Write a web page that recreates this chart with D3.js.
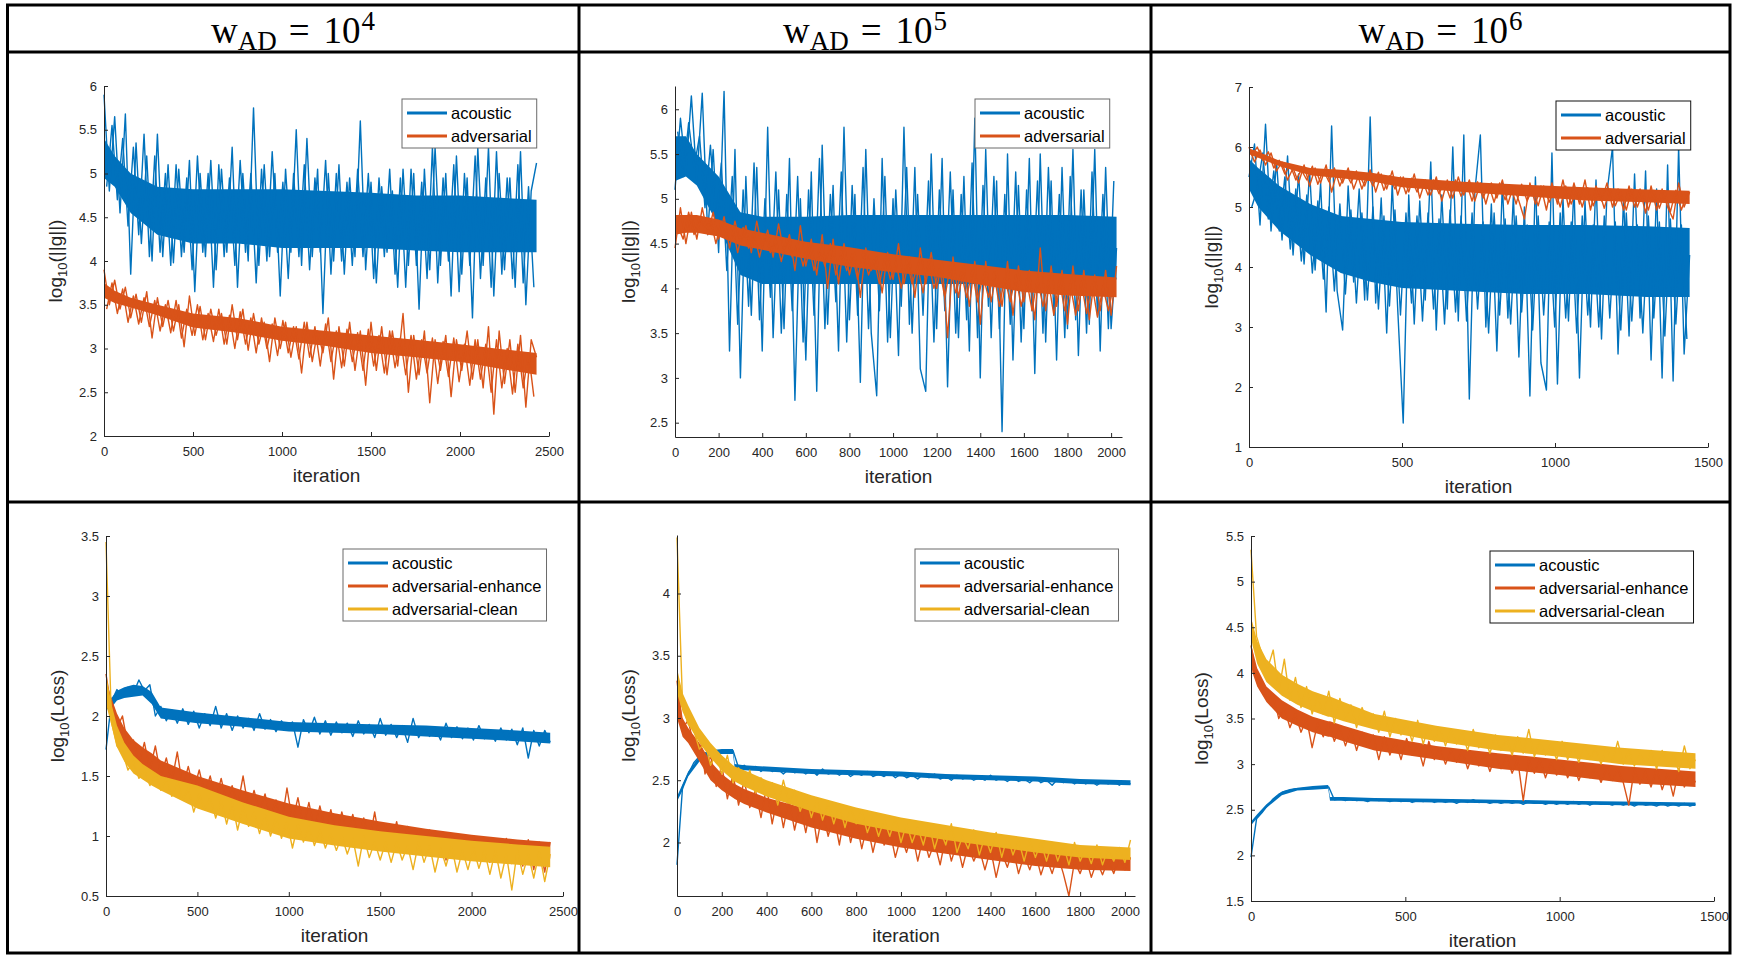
<!DOCTYPE html>
<html><head><meta charset="utf-8">
<script src="https://cdn.jsdelivr.net/npm/d3@7"></script>
<style>body{margin:0;background:#fff}svg{display:block}</style>
</head><body>
<svg id="c" width="1743" height="961"></svg>
<script>
// ---------------- DATA ----------------
const headerExponents = ["4", "5", "6"];
const gradLegend = ["acoustic", "adversarial"];
const lossLegend = ["acoustic", "adversarial-enhance", "adversarial-clean"];
const seriesColors = ["#0072BD", "#D95319", "#EDB120"];

// Panel 1 : w=1e4, log10(||g||); raw trace read every 30 iterations (+ the samples half-way between)
const p1Step = 30;
const p1Acoustic = [5.90,4.80,5.65,4.55,5.68,3.85,5.35,4.20,5.20,4.00,5.45,4.05,5.10,3.98,5.05,4.10,5.15,3.65,5.00,4.05,5.15,3.90,5.05,4.10,5.30,3.70,5.00,4.00,5.75,3.95,5.10,4.05,5.00,3.60,5.05,4.10,5.50,3.95,5.40,4.05,5.05,3.40,5.00,4.00,5.10,3.85,4.95,4.05,5.60,3.90,4.90,3.75,4.85,4.10,4.80,3.70,5.05,3.95,5.00,3.45,5.05,3.90,5.30,3.95,5.00,3.60,5.20,3.85,4.95,3.35,5.30,3.95,5.30,3.60,5.00,3.90,4.95,3.70,5.25,3.50,4.80,5.12];
const p1AcousticMid = [4.85,5.55,4.70,5.40,4.40,5.30,4.30,5.45,4.05,5.20,4.10,5.00,3.95,5.10,4.05,4.95,3.90,5.20,4.10,5.00,3.70,5.10,4.05,4.95,3.95,5.15,4.10,5.00,3.75,5.05,4.00,5.25,4.10,4.90,3.80,5.00,4.05,5.10,3.90,4.95,4.10,5.15,3.85,5.00,4.00,4.90,3.95,5.05,4.05,5.00,3.80,4.95,4.05,5.05,3.85,4.95,3.70,5.05,3.95,4.90,3.80,5.30,3.75,4.95,4.00,5.10,3.65,5.00,3.95,5.20,3.80,4.95,3.70,5.25,3.85,4.95,3.80,5.10,3.75,4.85,3.70];
const p1Adversarial = [3.90,3.50,3.78,3.45,3.70,3.35,3.62,3.30,3.65,3.12,3.58,3.25,3.55,3.20,3.50,3.02,3.60,3.15,3.48,3.10,3.45,3.15,3.40,3.05,3.50,3.10,3.45,2.98,3.40,3.05,3.30,2.85,3.35,3.00,3.30,2.90,3.25,2.72,3.30,2.85,3.20,2.95,3.35,2.65,3.25,2.80,3.30,2.75,3.20,2.58,3.30,2.75,3.25,2.70,3.20,2.80,3.40,2.50,3.15,2.70,3.20,2.38,3.10,2.75,3.15,2.45,3.10,2.75,3.20,2.65,3.10,2.55,3.25,2.25,3.20,2.60,3.10,2.50,3.15,2.33,3.10,2.90];
const p1AdversarialMid = [3.45,3.75,3.40,3.68,3.30,3.60,3.28,3.58,3.25,3.55,3.20,3.50,3.18,3.55,3.12,3.45,3.15,3.50,3.10,3.40,3.08,3.45,3.05,3.38,3.00,3.42,3.05,3.35,2.95,3.35,3.00,3.28,2.92,3.32,2.95,3.25,2.88,3.30,2.90,3.25,2.80,3.28,2.85,3.20,2.78,3.22,2.85,3.18,2.75,3.22,2.80,3.15,2.72,3.20,2.78,3.12,2.70,3.15,2.65,3.10,2.72,3.12,2.60,3.08,2.68,3.12,2.62,3.05,2.58,3.10,2.65,3.05,2.50,3.10,2.55,3.00,2.48,3.05,2.55,2.95,2.45];
// dense core of each trace (lower / upper edge) at these iterations
const p1BandIter = [0, 60, 150, 300, 500, 750, 1000, 1250, 1500, 1750, 2000, 2250, 2430];
const p1AcousticLow  = [4.95, 4.85, 4.55, 4.30, 4.20, 4.20, 4.15, 4.15, 4.15, 4.12, 4.10, 4.10, 4.10];
const p1AcousticHigh = [5.40, 5.20, 5.00, 4.85, 4.82, 4.82, 4.82, 4.80, 4.78, 4.75, 4.75, 4.72, 4.70];
const p1AdversarialLow  = [3.58, 3.52, 3.47, 3.38, 3.24, 3.18, 3.09, 3.03, 2.95, 2.90, 2.85, 2.76, 2.70];
const p1AdversarialHigh = [3.75, 3.66, 3.58, 3.50, 3.40, 3.35, 3.25, 3.20, 3.15, 3.10, 3.05, 2.99, 2.95];
const p1XTicks = [0, 500, 1000, 1500, 2000, 2500];
const p1YTicks = [2, 2.5, 3, 3.5, 4, 4.5, 5, 5.5, 6];

// Panel 2 : w=1e5, log10(||g||), every 25 iterations
const p2Step = 25;
const p2Acoustic = [5.10,5.90,5.30,6.15,5.20,6.18,4.60,5.55,4.40,6.20,3.30,5.55,3.00,5.25,3.70,5.35,3.30,5.80,3.45,5.10,3.55,5.45,2.75,5.00,3.20,5.30,2.85,5.60,3.60,5.15,3.30,5.80,3.65,5.05,2.95,5.55,3.50,2.80,5.45,3.40,5.00,3.25,5.80,3.60,5.35,3.10,2.85,5.50,3.55,5.45,2.90,5.10,3.45,5.25,3.30,5.90,3.00,5.55,3.45,5.20,2.40,5.50,3.20,5.15,3.55,5.45,3.05,5.50,3.40,5.20,3.20,5.35,3.55,5.55,3.25,5.10,3.60,5.55,3.30,5.35,3.55,4.45];
const p2AcousticMid = [5.75,5.25,5.85,5.35,5.70,4.90,5.60,4.70,5.40,4.20,5.25,3.60,5.10,3.80,5.40,3.65,5.00,3.90,5.30,3.50,5.05,3.75,5.25,3.40,5.10,3.70,5.45,3.55,5.05,3.85,5.30,3.40,5.15,3.70,5.35,3.55,5.00,3.75,5.25,3.45,5.10,3.80,5.35,3.50,5.05,3.70,5.20,3.40,5.10,3.75,5.30,3.50,5.05,3.65,5.40,3.45,5.15,3.80,5.25,3.55,5.05,3.60,5.30,3.40,5.10,3.75,5.20,3.50,5.35,3.70,5.05,3.45,5.25,3.65,5.10,3.50,5.30,3.70,5.05,3.55,5.20];
const p2Adversarial = [4.45,4.90,4.50,4.85,4.55,4.90,4.60,4.85,4.55,4.80,4.45,4.75,4.50,4.70,4.40,4.75,4.45,4.65,4.35,4.72,4.40,4.60,4.20,4.70,4.25,4.55,4.15,4.60,4.00,4.55,4.05,4.50,4.15,4.40,3.90,4.45,4.20,4.35,3.95,4.40,4.10,4.50,4.05,4.35,3.90,4.45,4.05,4.40,4.00,4.30,3.45,4.35,3.90,4.25,3.80,4.30,3.60,4.30,3.85,4.20,3.80,4.30,3.70,4.25,3.85,4.20,3.65,4.45,3.75,4.25,3.80,4.20,3.60,4.25,3.75,4.20,3.65,4.15,3.75,4.20,3.70,4.25];
const p2AdversarialMid = [4.70,4.55,4.85,4.60,4.80,4.65,4.78,4.50,4.75,4.55,4.70,4.40,4.68,4.45,4.62,4.35,4.60,4.40,4.55,4.30,4.55,4.35,4.50,4.25,4.50,4.20,4.45,4.25,4.50,4.15,4.42,4.20,4.38,4.10,4.40,4.15,4.32,4.05,4.35,4.10,4.30,4.00,4.32,4.05,4.25,3.95,4.30,4.00,4.22,3.90,4.25,3.95,4.18,3.90,4.20,3.85,4.15,3.90,4.18,3.80,4.12,3.85,4.15,3.80,4.10,3.75,4.12,3.80,4.08,3.70,4.10,3.75,4.05,3.70,4.08,3.72,4.05,3.68,4.02,3.75,4.05];
const p2BandIter = [0, 50, 100, 200, 300, 400, 600, 800, 1000, 1200, 1400, 1600, 1800, 2025];
const p2AcousticLow  = [5.20, 5.25, 5.15, 4.70, 4.15, 4.05, 4.05, 4.05, 4.05, 4.05, 4.05, 4.05, 4.05, 4.10];
const p2AcousticHigh = [5.70, 5.70, 5.50, 5.25, 4.85, 4.80, 4.80, 4.82, 4.82, 4.82, 4.82, 4.82, 4.82, 4.80];
const p2AdversarialLow  = [4.60, 4.62, 4.62, 4.58, 4.48, 4.43, 4.33, 4.24, 4.18, 4.13, 4.04, 3.96, 3.92, 3.90];
const p2AdversarialHigh = [4.82, 4.82, 4.82, 4.77, 4.67, 4.62, 4.52, 4.46, 4.38, 4.32, 4.26, 4.20, 4.16, 4.12];
const p2XTicks = [0, 200, 400, 600, 800, 1000, 1200, 1400, 1600, 1800, 2000];
const p2YTicks = [2.5, 3, 3.5, 4, 4.5, 5, 5.5, 6];

// Panel 3 : w=1e6, log10(||g||), every 18 iterations
const p3Step = 18;
const p3Acoustic = [5.50,6.05,4.70,6.38,4.60,5.75,4.45,5.85,4.20,5.55,4.05,5.60,3.95,5.40,3.25,6.35,3.60,2.95,5.35,3.75,5.30,3.45,6.50,3.40,5.15,2.90,5.40,3.30,1.40,5.20,3.05,5.10,3.45,5.75,2.95,5.20,3.30,6.00,3.10,6.20,1.80,5.25,6.20,3.00,5.05,2.60,5.40,3.15,5.20,2.50,5.00,1.85,5.50,2.40,1.95,5.90,2.05,5.15,3.10,5.35,2.15,5.10,3.00,5.45,2.80,5.25,6.00,2.55,5.15,2.85,5.55,3.15,5.60,2.45,5.30,2.15,5.70,2.10,6.00,2.55,4.20];
const p3AcousticMid = [5.00,5.30,5.90,4.80,5.60,4.60,5.50,4.30,5.30,4.10,5.20,3.90,5.10,3.80,5.00,3.60,5.05,3.55,4.95,3.40,4.90,3.45,5.00,3.30,4.85,3.35,4.95,3.20,4.90,3.40,4.85,3.10,4.90,3.30,4.80,3.05,4.95,3.25,4.85,3.10,4.90,3.30,4.75,2.90,4.90,3.20,4.80,3.05,4.85,3.25,4.70,2.95,4.85,3.20,4.75,3.00,4.90,3.15,4.75,2.90,4.85,3.20,4.70,3.00,4.85,3.15,4.75,2.95,4.90,3.10,4.70,2.90,4.85,3.15,4.75,2.85,4.80,3.05,4.70,2.80];
const p3Adversarial = [6.00,5.75,5.95,5.70,5.90,5.60,5.75,5.45,5.65,5.40,5.70,5.35,5.65,5.40,5.70,5.25,5.60,5.40,5.65,5.30,5.55,5.35,5.62,5.25,5.55,5.30,5.60,5.20,5.50,5.25,5.55,5.15,5.45,5.20,5.50,5.10,5.45,5.15,5.50,5.20,5.45,5.10,5.40,5.05,5.40,5.15,5.45,5.05,5.35,5.10,4.80,5.40,5.05,5.35,4.95,5.40,5.05,5.45,5.00,5.40,5.05,5.45,4.95,5.35,5.10,5.40,5.00,5.30,4.95,5.35,5.00,5.30,4.90,5.35,4.95,5.30,5.00,4.80,5.40,5.00,5.25];
const p3AdversarialMid = [5.85,6.00,5.78,5.92,5.65,5.78,5.55,5.70,5.45,5.62,5.45,5.68,5.38,5.62,5.42,5.65,5.35,5.58,5.40,5.60,5.30,5.55,5.35,5.58,5.28,5.52,5.30,5.50,5.22,5.48,5.25,5.45,5.20,5.45,5.22,5.42,5.15,5.45,5.18,5.40,5.10,5.42,5.15,5.38,5.08,5.40,5.12,5.35,5.05,5.38,5.10,5.32,5.02,5.35,5.08,5.30,5.00,5.35,5.05,5.30,5.00,5.32,5.02,5.28,4.98,5.30,5.02,5.25,4.95,5.30,5.00,5.25,4.95,5.28,4.98,5.25,4.92,5.28,4.95,5.22];
const p3BandIter = [0, 30, 100, 200, 300, 400, 500, 700, 900, 1100, 1300, 1440];
const p3AcousticLow  = [5.30, 5.00, 4.60, 4.20, 3.90, 3.75, 3.65, 3.60, 3.55, 3.55, 3.50, 3.50];
const p3AcousticHigh = [5.80, 5.65, 5.35, 5.05, 4.85, 4.80, 4.75, 4.72, 4.70, 4.70, 4.68, 4.65];
const p3AdversarialLow  = [5.88, 5.82, 5.68, 5.53, 5.48, 5.43, 5.33, 5.25, 5.18, 5.11, 5.08, 5.05];
const p3AdversarialHigh = [5.98, 5.92, 5.77, 5.65, 5.62, 5.57, 5.49, 5.42, 5.37, 5.33, 5.29, 5.27];
const p3XTicks = [0, 500, 1000, 1500];
const p3YTicks = [1, 2, 3, 4, 5, 6, 7];

// Panel 4 : w=1e4, log10(Loss), every 30 iterations
const p4Step = 30;
const p4Acoustic = [1.72,2.12,2.22,2.17,2.24,2.19,2.30,2.21,2.26,2.00,2.08,1.96,2.05,1.94,2.06,1.93,2.04,1.90,2.02,1.92,2.08,1.90,2.02,1.88,2.00,1.90,1.98,1.88,2.02,1.89,1.97,1.87,1.96,1.89,1.95,1.74,1.97,1.86,1.99,1.85,1.96,1.84,1.95,1.86,1.94,1.83,1.96,1.85,1.93,1.82,1.98,1.84,1.93,1.82,1.92,1.78,1.98,1.82,1.90,1.83,1.90,1.80,1.94,1.82,1.91,1.81,1.90,1.80,1.92,1.81,1.88,1.79,1.90,1.80,1.89,1.76,1.90,1.65,1.88,1.75,1.88,1.78];
const p4Enhance = [2.35,2.05,1.90,2.00,1.75,1.80,1.60,1.78,1.55,1.75,1.50,1.65,1.45,1.70,1.40,1.58,1.38,1.55,1.35,1.50,1.30,1.48,1.28,1.42,1.25,1.50,1.22,1.38,1.20,1.35,1.15,1.30,1.10,1.40,1.12,1.32,1.08,1.28,1.05,1.25,1.05,1.22,1.00,1.20,1.02,1.18,0.98,1.15,0.95,1.20,0.92,1.10,0.95,1.12,0.90,1.08,0.88,1.05,0.85,1.05,0.85,1.00,0.80,1.02,0.83,0.98,0.82,1.00,0.80,0.95,0.78,0.95,0.80,0.98,0.77,0.93,0.75,0.97,0.72,0.95,0.70,0.95];
const p4Clean = [3.45,1.95,1.75,1.70,1.55,1.62,1.48,1.55,1.42,1.52,1.38,1.48,1.33,1.45,1.30,1.40,1.20,1.35,1.22,1.32,1.15,1.30,1.10,1.28,1.05,1.25,1.08,1.20,1.02,1.18,1.00,1.15,0.98,1.12,0.90,1.10,0.95,1.08,0.92,1.05,0.90,1.02,0.88,1.00,0.85,0.98,0.75,1.00,0.82,0.95,0.80,0.95,0.78,0.95,0.80,0.92,0.72,0.95,0.78,0.92,0.70,0.90,0.75,0.92,0.70,0.88,0.72,0.90,0.73,0.88,0.68,0.88,0.65,0.85,0.55,0.88,0.68,0.85,0.65,0.87,0.62,0.85];
const p4BandIter = [0, 30, 60, 100, 150, 200, 250, 300, 500, 750, 1000, 1250, 1500, 1750, 2000, 2250, 2430];
const p4AcousticLow  = [2.05, 2.07, 2.13, 2.15, 2.16, 2.17, 2.10, 1.98, 1.94, 1.91, 1.87, 1.86, 1.85, 1.83, 1.81, 1.79, 1.77];
const p4AcousticHigh = [2.20, 2.15, 2.21, 2.24, 2.26, 2.25, 2.20, 2.07, 2.03, 1.99, 1.95, 1.94, 1.93, 1.92, 1.90, 1.88, 1.86];
const p4EnhanceLow  = [2.10, 1.98, 1.82, 1.72, 1.62, 1.57, 1.52, 1.47, 1.32, 1.20, 1.08, 1.01, 0.95, 0.90, 0.86, 0.83, 0.81];
const p4EnhanceHigh = [2.30, 2.15, 2.02, 1.90, 1.80, 1.74, 1.69, 1.63, 1.50, 1.38, 1.27, 1.19, 1.12, 1.06, 1.01, 0.97, 0.95];
const p4CleanLow  = [2.10, 1.92, 1.74, 1.62, 1.52, 1.47, 1.42, 1.38, 1.23, 1.10, 0.98, 0.92, 0.87, 0.83, 0.79, 0.76, 0.74];
const p4CleanHigh = [2.35, 2.10, 1.92, 1.78, 1.67, 1.60, 1.55, 1.50, 1.42, 1.28, 1.16, 1.09, 1.04, 1.00, 0.96, 0.93, 0.91];
const p4XTicks = [0, 500, 1000, 1500, 2000, 2500];
const p4YTicks = [0.5, 1, 1.5, 2, 2.5, 3, 3.5];

// Panel 5 : w=1e5, log10(Loss), every 25 iterations
const p5Step = 25;
const p5Acoustic = [1.82,2.45,2.55,2.64,2.69,2.72,2.73,2.74,2.73,2.74,2.74,2.60,2.62,2.58,2.61,2.57,2.60,2.57,2.59,2.55,2.59,2.56,2.58,2.55,2.58,2.54,2.59,2.55,2.57,2.54,2.57,2.53,2.56,2.54,2.57,2.53,2.55,2.53,2.56,2.52,2.55,2.52,2.54,2.51,2.55,2.52,2.55,2.51,2.53,2.50,2.54,2.51,2.53,2.50,2.52,2.50,2.54,2.50,2.52,2.49,2.52,2.49,2.51,2.48,2.52,2.48,2.50,2.46,2.51,2.48,2.50,2.47,2.50,2.47,2.49,2.46,2.49,2.47,2.49,2.46,2.49,2.47];
const p5Enhance = [3.30,2.92,2.98,2.78,2.90,2.55,2.70,2.45,2.62,2.35,2.55,2.30,2.50,2.28,2.42,2.20,2.45,2.15,2.38,2.12,2.35,2.10,2.30,2.08,2.32,2.00,2.25,2.05,2.22,1.98,2.25,2.00,2.18,1.95,2.15,1.92,2.12,1.98,2.10,1.88,2.05,1.92,2.08,1.85,2.05,1.88,2.00,1.82,2.05,1.85,2.00,1.80,1.98,1.85,1.95,1.78,1.95,1.72,1.92,1.80,1.95,1.75,1.90,1.78,1.92,1.74,1.88,1.75,1.90,1.75,1.57,1.85,1.75,1.88,1.72,1.85,1.74,1.86,1.75,1.88,1.78,1.88];
const p5Clean = [4.45,3.10,2.95,2.90,2.75,2.80,2.62,2.72,2.55,2.70,2.48,2.60,2.45,2.58,2.40,2.52,2.38,2.48,2.30,2.50,2.32,2.42,2.25,2.38,2.20,2.35,2.18,2.32,2.15,2.30,2.12,2.28,2.15,2.25,2.08,2.20,2.05,2.18,2.05,2.20,2.00,2.15,2.00,2.12,1.98,2.15,1.95,2.10,1.98,2.15,1.92,2.05,1.95,2.10,1.90,2.05,1.92,2.08,1.88,2.05,1.90,2.02,1.85,2.02,1.88,2.00,1.85,2.00,1.85,1.98,1.82,2.00,1.85,1.95,1.83,1.98,1.82,1.95,1.85,1.96,1.84,2.02];
const p5BandIter = [0, 25, 50, 100, 150, 200, 250, 258, 300, 400, 600, 800, 1000, 1200, 1400, 1600, 1800, 2025];
const p5AcousticLow  = [2.33, 2.42, 2.53, 2.65, 2.70, 2.71, 2.71, 2.59, 2.58, 2.57, 2.55, 2.54, 2.53, 2.51, 2.50, 2.49, 2.47, 2.46];
const p5AcousticHigh = [2.37, 2.47, 2.57, 2.69, 2.74, 2.75, 2.75, 2.63, 2.62, 2.61, 2.59, 2.58, 2.57, 2.55, 2.54, 2.53, 2.51, 2.50];
const p5EnhanceLow  = [3.00, 2.85, 2.80, 2.65, 2.50, 2.42, 2.36, 2.35, 2.31, 2.24, 2.12, 2.03, 1.96, 1.91, 1.86, 1.81, 1.78, 1.77];
const p5EnhanceHigh = [3.30, 3.00, 2.92, 2.80, 2.65, 2.55, 2.48, 2.47, 2.43, 2.36, 2.26, 2.16, 2.09, 2.03, 1.98, 1.93, 1.89, 1.88];
const p5CleanLow  = [3.20, 3.05, 2.95, 2.80, 2.68, 2.58, 2.50, 2.49, 2.45, 2.37, 2.25, 2.15, 2.08, 2.02, 1.97, 1.92, 1.88, 1.86];
const p5CleanHigh = [3.40, 3.20, 3.10, 2.92, 2.80, 2.70, 2.62, 2.61, 2.58, 2.50, 2.38, 2.28, 2.20, 2.14, 2.08, 2.03, 1.98, 1.96];
const p5XTicks = [0, 200, 400, 600, 800, 1000, 1200, 1400, 1600, 1800, 2000];
const p5YTicks = [2, 2.5, 3, 3.5, 4];

// Panel 6 : w=1e6, log10(Loss), every 18 iterations
const p6Step = 18;
const p6Acoustic = [1.98,2.40,2.47,2.55,2.62,2.67,2.70,2.72,2.73,2.73,2.74,2.74,2.75,2.75,2.75,2.61,2.62,2.60,2.62,2.60,2.61,2.59,2.62,2.60,2.61,2.59,2.61,2.59,2.61,2.58,2.60,2.59,2.61,2.58,2.60,2.58,2.60,2.57,2.60,2.58,2.61,2.58,2.59,2.57,2.59,2.57,2.59,2.57,2.59,2.56,2.59,2.57,2.58,2.56,2.58,2.56,2.58,2.56,2.59,2.56,2.58,2.55,2.58,2.56,2.57,2.55,2.57,2.55,2.57,2.54,2.57,2.55,2.56,2.54,2.57,2.54,2.56,2.54,2.57,2.54,2.56];
const p6Enhance = [4.30,3.95,3.85,3.70,3.75,3.50,3.62,3.40,3.55,3.35,3.50,3.18,3.45,3.30,3.45,3.25,3.40,3.20,3.38,3.15,3.35,3.20,3.32,3.05,3.30,3.10,3.25,3.05,3.28,3.10,3.20,2.98,3.25,3.05,3.18,3.00,3.15,3.02,3.15,2.95,3.12,2.98,3.10,2.92,3.10,2.95,3.08,2.90,3.05,2.60,3.05,2.90,3.05,2.85,3.02,2.88,3.00,2.85,3.00,2.82,2.98,2.85,2.95,2.80,2.95,2.82,2.95,2.80,2.55,2.95,2.78,2.92,2.75,2.95,2.72,2.90,2.65,2.95,2.75,2.90,2.80];
const p6Clean = [5.35,4.40,4.20,4.05,4.25,3.80,4.15,3.70,3.95,3.62,3.85,3.55,3.75,3.55,3.80,3.45,3.72,3.48,3.65,3.40,3.62,3.42,3.55,3.35,3.58,3.30,3.50,3.32,3.45,3.25,3.48,3.22,3.42,3.25,3.40,3.20,3.38,3.22,3.35,3.15,3.38,3.18,3.30,3.12,3.32,3.15,3.28,3.10,3.30,3.12,3.38,3.08,3.25,3.10,3.22,3.05,3.25,3.05,3.20,3.02,3.20,3.05,3.18,3.00,3.18,3.02,3.25,3.00,3.15,2.98,3.12,3.00,3.15,2.95,3.15,2.98,3.10,2.92,3.20,2.95,3.05];
const p6BandIter = [0, 5, 20, 50, 100, 150, 200, 250, 256, 300, 400, 600, 800, 1000, 1200, 1440];
const p6AcousticLow  = [2.33, 2.35, 2.41, 2.52, 2.66, 2.71, 2.72, 2.73, 2.60, 2.60, 2.59, 2.58, 2.57, 2.56, 2.55, 2.54];
const p6AcousticHigh = [2.37, 2.39, 2.45, 2.56, 2.70, 2.74, 2.76, 2.77, 2.64, 2.64, 2.63, 2.62, 2.61, 2.60, 2.59, 2.58];
const p6EnhanceLow  = [4.10, 4.00, 3.85, 3.68, 3.50, 3.42, 3.35, 3.30, 3.30, 3.25, 3.15, 3.05, 2.95, 2.88, 2.80, 2.75];
const p6EnhanceHigh = [4.30, 4.25, 4.05, 3.85, 3.70, 3.60, 3.52, 3.47, 3.47, 3.42, 3.32, 3.20, 3.12, 3.05, 2.98, 2.92];
const p6CleanLow  = [4.40, 4.30, 4.10, 3.90, 3.75, 3.65, 3.58, 3.52, 3.52, 3.47, 3.38, 3.25, 3.15, 3.08, 3.00, 2.95];
const p6CleanHigh = [4.60, 4.55, 4.35, 4.15, 3.98, 3.88, 3.80, 3.74, 3.74, 3.68, 3.55, 3.42, 3.32, 3.25, 3.18, 3.12];
const p6XTicks = [0, 500, 1000, 1500];
const p6YTicks = [1.5, 2, 2.5, 3, 3.5, 4, 4.5, 5, 5.5];

// ---------------- LAYOUT ----------------
const svg = d3.select("#c");
const sans = "'Liberation Sans', Arial, sans-serif";
const ink = "#262626";

const panels = [
  {step:p1Step, series:[[p1Acoustic,p1AcousticMid],[p1Adversarial,p1AdversarialMid]], bandIter:p1BandIter, bands:[[p1AcousticLow,p1AcousticHigh],[p1AdversarialLow,p1AdversarialHigh]],
   legend:gradLegend, xDomain:[0,2500], yDomain:[2,6], xTicks:p1XTicks, yTicks:p1YTicks,
   left:104, right:549, top:86, bottom:436, legX:402, legY:99, legBorder:"#6a6a6a", yLabel:"g", yLabX:49},
  {step:p2Step, series:[[p2Acoustic,p2AcousticMid],[p2Adversarial,p2AdversarialMid]], bandIter:p2BandIter, bands:[[p2AcousticLow,p2AcousticHigh],[p2AdversarialLow,p2AdversarialHigh]],
   legend:gradLegend, xDomain:[0,2050], yDomain:[2.34,6.26], xTicks:p2XTicks, yTicks:p2YTicks,
   left:675, right:1122, top:86, bottom:437, legX:975, legY:99, legBorder:"#6a6a6a", yLabel:"g", yLabX:47},
  {step:p3Step, series:[[p3Acoustic,p3AcousticMid],[p3Adversarial,p3AdversarialMid]], bandIter:p3BandIter, bands:[[p3AcousticLow,p3AcousticHigh],[p3AdversarialLow,p3AdversarialHigh]],
   legend:gradLegend, xDomain:[0,1500], yDomain:[1,7], xTicks:p3XTicks, yTicks:p3YTicks,
   left:1249, right:1708, top:87, bottom:447, legX:1556, legY:101, legBorder:"#111", yLabel:"g", yLabX:38},
  {step:p4Step, series:[[p4Acoustic],[p4Enhance],[p4Clean]], bandIter:p4BandIter, bands:[[p4AcousticLow,p4AcousticHigh],[p4EnhanceLow,p4EnhanceHigh],[p4CleanLow,p4CleanHigh]],
   legend:lossLegend, xDomain:[0,2500], yDomain:[0.5,3.5], xTicks:p4XTicks, yTicks:p4YTicks,
   left:106, right:563, top:536, bottom:896, legX:343, legY:549, legBorder:"#6a6a6a", yLabel:"L", yLabX:49},
  {step:p5Step, series:[[p5Acoustic],[p5Enhance],[p5Clean]], bandIter:p5BandIter, bands:[[p5AcousticLow,p5AcousticHigh],[p5EnhanceLow,p5EnhanceHigh],[p5CleanLow,p5CleanHigh]],
   legend:lossLegend, xDomain:[0,2045], yDomain:[1.57,4.47], xTicks:p5XTicks, yTicks:p5YTicks,
   left:677, right:1135, top:535, bottom:896, legX:915, legY:549, legBorder:"#6a6a6a", yLabel:"L", yLabX:49},
  {step:p6Step, series:[[p6Acoustic],[p6Enhance],[p6Clean]], bandIter:p6BandIter, bands:[[p6AcousticLow,p6AcousticHigh],[p6EnhanceLow,p6EnhanceHigh],[p6CleanLow,p6CleanHigh]],
   legend:lossLegend, xDomain:[0,1500], yDomain:[1.5,5.5], xTicks:p6XTicks, yTicks:p6YTicks,
   left:1251, right:1714, top:536, bottom:901, legX:1490, legY:551, legBorder:"#111", yLabel:"L", yLabX:50}
];

function drawPanel(p){
  const g = svg.append("g");
  const x = d3.scaleLinear().domain(p.xDomain).range([p.left, p.right]);
  const y = d3.scaleLinear().domain(p.yDomain).range([p.bottom, p.top]);
  const line = d3.line().x(d => x(d[0])).y(d => y(d[1]));
  const area = d3.area().x(d => x(d.it)).y0(d => y(d.lo)).y1(d => y(d.hi));

  p.series.forEach((traces, k) => {
    const [lo, hi] = p.bands[k];
    g.append("path")
      .attr("d", area(p.bandIter.map((it, i) => ({it, lo: lo[i], hi: hi[i]}))))
      .attr("fill", seriesColors[k]).attr("stroke", "none");
    traces.forEach((vals, t) => {
      const offset = t * p.step / 2;
      g.append("path")
        .attr("d", line(vals.map((v, i) => [offset + i * p.step, v])))
        .attr("fill", "none").attr("stroke", seriesColors[k])
        .attr("stroke-width", 1.4).attr("stroke-linejoin", "round");
    });
  });

  const fmt = d => String(d);
  const xa = g.append("g").attr("transform", `translate(0,${p.bottom})`)
    .call(d3.axisBottom(x).tickValues(p.xTicks).tickFormat(fmt).tickSizeInner(-4).tickSizeOuter(0).tickPadding(11));
  const ya = g.append("g").attr("transform", `translate(${p.left},0)`)
    .call(d3.axisLeft(y).tickValues(p.yTicks).tickFormat(fmt).tickSizeInner(-4).tickSizeOuter(0).tickPadding(7));
  [xa, ya].forEach(a => {
    a.selectAll("path,line").attr("stroke", ink).attr("stroke-width", 1);
    a.selectAll("text").attr("fill", ink).style("font-family", sans).style("font-size", "13px");
  });

  g.append("text").attr("x", (p.left + p.right) / 2).attr("y", p.bottom + 46)
    .attr("text-anchor", "middle").style("font-family", sans).style("font-size", "19px").attr("fill", ink)
    .text("iteration");
  const yl = g.append("text")
    .attr("transform", `translate(${p.left - p.yLabX + 7},${(p.top + p.bottom) / 2}) rotate(-90)`)
    .attr("text-anchor", "middle").style("font-family", sans).style("font-size", "19px").attr("fill", ink);
  yl.append("tspan").text("log");
  yl.append("tspan").attr("dy", 5).style("font-size", "13px").text("10");
  yl.append("tspan").attr("dy", -5).text(p.yLabel === "g" ? "(||g||)" : "(Loss)");

  const lg = g.append("g");
  const n = p.legend.length;
  const box = lg.append("rect").attr("x", p.legX).attr("y", p.legY)
    .attr("height", 26 + 23 * (n - 1)).attr("fill", "#fff")
    .attr("stroke", p.legBorder).attr("stroke-width", 1);
  let maxW = 0;
  p.legend.forEach((lab, k) => {
    const cy = p.legY + 14 + 23 * k;
    lg.append("line").attr("x1", p.legX + 5).attr("x2", p.legX + 45).attr("y1", cy).attr("y2", cy)
      .attr("stroke", seriesColors[k]).attr("stroke-width", 3);
    const t = lg.append("text").attr("x", p.legX + 49).attr("y", cy).attr("dy", "0.35em")
      .style("font-family", sans).style("font-size", "16.5px").attr("fill", "#000").text(lab);
    maxW = Math.max(maxW, t.node().getComputedTextLength());
  });
  box.attr("width", 49 + maxW + 5);
}

panels.forEach(drawPanel);

// ---------------- TABLE FRAME & HEADERS ----------------
const frame = svg.append("g").attr("stroke", "#000").attr("stroke-width", 3).attr("fill", "none");
frame.append("rect").attr("x", 7.5).attr("y", 5).attr("width", 1722.5).attr("height", 948);
frame.append("line").attr("x1", 7.5).attr("x2", 1730).attr("y1", 52).attr("y2", 52);
frame.append("line").attr("x1", 7.5).attr("x2", 1730).attr("y1", 502).attr("y2", 502);
frame.append("line").attr("x1", 579).attr("x2", 579).attr("y1", 5).attr("y2", 953);
frame.append("line").attr("x1", 1151).attr("x2", 1151).attr("y1", 5).attr("y2", 953);

const headerCenters = [293, 865, 1440.5];
headerExponents.forEach((e, i) => {
  const t = svg.append("text").attr("x", headerCenters[i]).attr("y", 43)
    .attr("text-anchor", "middle").style("font-family", "'Liberation Serif', 'Times New Roman', serif")
    .style("font-size", "37px").attr("fill", "#000");
  t.append("tspan").text("w");
  t.append("tspan").attr("dy", 7).style("font-size", "27px").text("AD");
  t.append("tspan").attr("dy", -7).attr("dx", 12).text("=");
  t.append("tspan").attr("dx", 14).text("10");
  t.append("tspan").attr("dy", -13).attr("dx", 1).style("font-size", "27px").text(e);
});
</script>
</body></html>
